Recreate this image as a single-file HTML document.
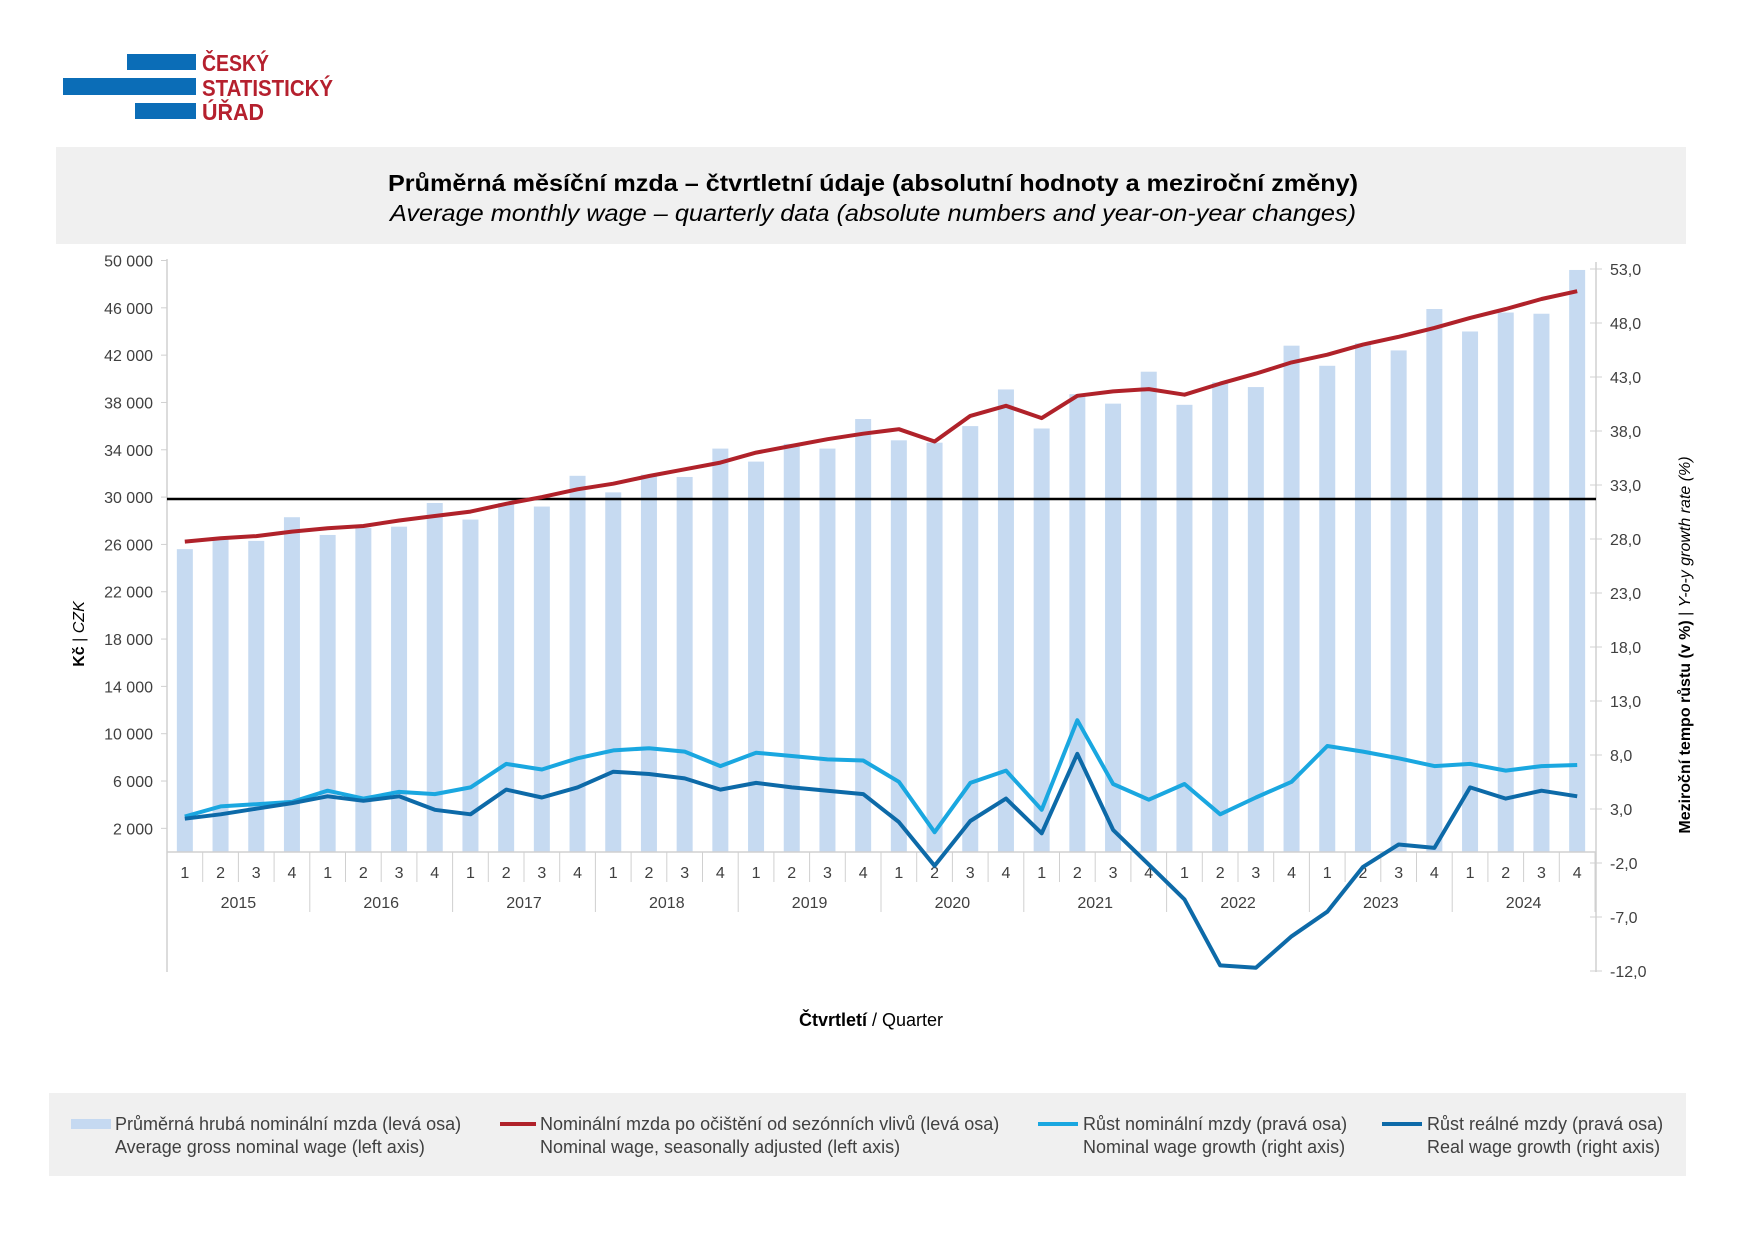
<!DOCTYPE html>
<html><head><meta charset="utf-8"><style>
html,body{margin:0;padding:0;background:#fff;}
svg{display:block;font-family:"Liberation Sans",sans-serif;}
</style></head><body>
<svg id="s" width="1754" height="1240" viewBox="0 0 1754 1240" xmlns="http://www.w3.org/2000/svg">
<rect width="1754" height="1240" fill="#fff"/>
<rect x="127" y="54" width="69" height="16" fill="#0b6db7"/>
<rect x="63" y="78" width="133" height="17" fill="#0b6db7"/>
<rect x="135" y="103" width="61" height="16" fill="#0b6db7"/>
<g font-family="'Liberation Sans Narrow','Liberation Sans',sans-serif" font-weight="bold" font-size="23" fill="#b5202e">
<text x="202" y="71" textLength="67" lengthAdjust="spacingAndGlyphs">ČESKÝ</text>
<text x="202" y="96" textLength="131" lengthAdjust="spacingAndGlyphs">STATISTICKÝ</text>
<text x="202" y="120" textLength="62" lengthAdjust="spacingAndGlyphs">ÚŘAD</text>
</g>
<rect x="56" y="147" width="1630" height="97" fill="#f0f0f0"/>
<text x="873" y="191" text-anchor="middle" font-size="23" font-weight="bold" fill="#000" textLength="970" lengthAdjust="spacingAndGlyphs">Průměrná měsíční mzda – čtvrtletní údaje (absolutní hodnoty a meziroční změny)</text>
<text x="873" y="221" text-anchor="middle" font-size="23" font-style="italic" fill="#000" textLength="966" lengthAdjust="spacingAndGlyphs">Average monthly wage – quarterly data (absolute numbers and year-on-year changes)</text>
<g id="chart"></g>
<rect x="49" y="1093" width="1637" height="83" fill="#f0f0f0"/>
<g font-size="18" fill="#404040">
<rect x="71" y="1119" width="40" height="10" fill="#c5d9f1"/>
<text x="115" y="1130">Průměrná hrubá nominální mzda (levá osa)</text>
<text x="115" y="1153">Average gross nominal wage (left axis)</text>
<rect x="500" y="1122" width="36" height="4" fill="#b0222a"/>
<text x="540" y="1130">Nominální mzda po očištění od sezónních vlivů (levá osa)</text>
<text x="540" y="1153">Nominal wage, seasonally adjusted (left axis)</text>
<rect x="1038" y="1122" width="40" height="4" fill="#1aa7e0"/>
<text x="1083" y="1130">Růst nominální mzdy (pravá osa)</text>
<text x="1083" y="1153">Nominal wage growth (right axis)</text>
<rect x="1382" y="1122" width="40" height="4" fill="#0d6aa8"/>
<text x="1427" y="1130">Růst reálné mzdy (pravá osa)</text>
<text x="1427" y="1153">Real wage growth (right axis)</text>
</g>
</svg>
<script>
const NS="http://www.w3.org/2000/svg",g=document.getElementById("chart");
function el(t,a,txt){const e=document.createElementNS(NS,t);for(const k in a)e.setAttribute(k,a[k]);if(txt!=null)e.textContent=txt;g.appendChild(e);return e;}
const X0=167,CW=35.7,BASE=852;
const yl=v=>BASE-v*11.83;
const yr=v=>863-(v+2)*10.8;
const cx=i=>X0+CW*(i+0.5);
const bars=[25.6,26.5,26.3,28.3,26.8,27.4,27.5,29.5,28.1,29.5,29.2,31.8,30.4,31.9,31.7,34.1,33.0,34.5,34.1,36.6,34.8,34.6,36.0,39.1,35.8,38.7,37.9,40.6,37.8,39.7,39.3,42.8,41.1,43.0,42.4,45.9,44.0,45.6,45.5,49.2];
const red=[483,480,478,474,471,469,464,460,456,449,443,436,431,424,418,412,403,397,391,386,382,393,370,361,372,352,348,346,351,341,332,322,315,306,299,291,282,274,265,258].map(y=>30+(443-y)/10.63);
const lb=[729,720,718,716,706,713,707,709,703,682,687,677,670,668,671,684,672,675,678,679,698,743,699,688,723,643,700,714,700,727,712,698,666,671,677,684,682,688,684,683].map(y=>53-(y-240)/9.646);
const db=[731,727,722,717,711,715,711,723,727,705,712,703,689,691,695,705,699,703,706,709,734,773,733,713,744,673,741,772,803,862,864,836,814,774,754,757,703,713,706,711].map(y=>53-(y-240)/9.646);
el("line",{x1:X0,y1:259,x2:X0,y2:972,stroke:"#d0d0d0","stroke-width":1.5});
el("line",{x1:1596,y1:262,x2:1596,y2:972,stroke:"#d0d0d0","stroke-width":1.5});
for(let v=2;v<=50;v+=4){const y=yl(v);el("line",{x1:X0-6,y1:y,x2:X0,y2:y,stroke:"#d0d0d0"});
 el("text",{x:153,y:y+6,"text-anchor":"end","font-size":16,fill:"#404040"},v+" 000");}
for(let v=-12;v<=53;v+=5){const y=yr(v);el("line",{x1:1590,y1:y,x2:1602,y2:y,stroke:"#d0d0d0"});
 el("text",{x:1610,y:y+6,"font-size":16,fill:"#404040"},v.toFixed(1).replace(".",","));}
bars.forEach((b,i)=>el("rect",{x:cx(i)-8,y:yl(b),width:16,height:BASE-yl(b),fill:"#c6daf1"}));
el("line",{x1:X0,y1:BASE,x2:1596,y2:BASE,stroke:"#d0d0d0","stroke-width":1.5});
for(let i=0;i<=40;i++){const x=X0+CW*i;el("line",{x1:x,y1:BASE,x2:x,y2:i%4==0?912:882,stroke:"#d0d0d0"});}
for(let i=0;i<40;i++)el("text",{x:cx(i),y:878,"text-anchor":"middle","font-size":16,fill:"#404040"},(i%4)+1);
for(let k=0;k<10;k++)el("text",{x:X0+CW*(4*k+2),y:908,"text-anchor":"middle","font-size":16,fill:"#404040"},2015+k);
el("line",{x1:X0,y1:499,x2:1596,y2:499,stroke:"#000","stroke-width":2.5});
function line(d,f,c){el("polyline",{points:d.map((v,i)=>cx(i).toFixed(1)+","+f(v).toFixed(1)).join(" "),fill:"none",stroke:c,"stroke-width":4,"stroke-linejoin":"round"});}
line(red,yl,"#b0222a");line(lb,yr,"#1aa7e0");line(db,yr,"#0d6aa8");
const t1=el("text",{x:0,y:0,"text-anchor":"middle","font-size":16,fill:"#000",transform:"translate(84,634) rotate(-90)"});
t1.innerHTML='<tspan font-weight="bold">Kč</tspan> | <tspan font-style="italic">CZK</tspan>';
const t2=el("text",{x:0,y:0,"text-anchor":"middle","font-size":16,fill:"#000",transform:"translate(1690,645) rotate(-90)"});
t2.innerHTML='<tspan font-weight="bold">Meziroční tempo růstu (v %)</tspan> | <tspan font-style="italic">Y-o-y growth rate (%)</tspan>';
const t3=el("text",{x:871,y:1037,"text-anchor":"middle","font-size":18,fill:"#000",transform:"translate(0,-11)"});
t3.innerHTML='<tspan font-weight="bold">Čtvrtletí</tspan> / Quarter';
</script>
</body></html>
